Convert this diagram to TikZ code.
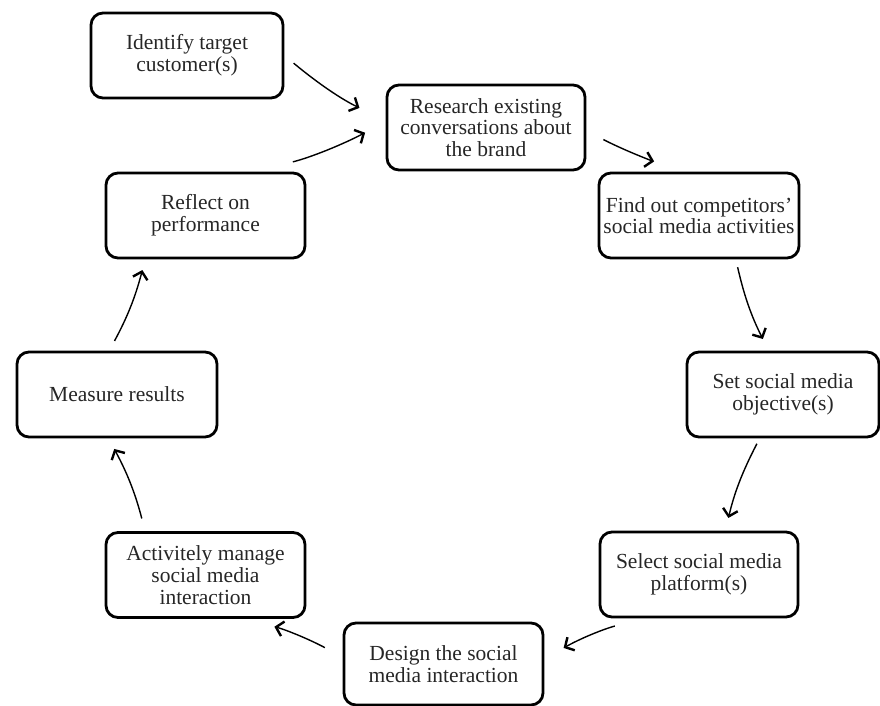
\documentclass[tikz,border=0pt]{standalone}
\usepackage{fontspec}
\setmainfont{Liberation Serif}
\usetikzlibrary{arrows.meta}

\begin{document}
\begin{tikzpicture}[x=1pt, y=-1pt,
    stage/.style={draw, line width=2.8pt, rounded corners=12pt, minimum height=85pt, inner sep=0pt, align=center, text=black!85, font=\fontsize{21.5}{21.7}\selectfont},
    flow/.style={line width=1.4pt, -{Straight Barb[length=7pt,width=15pt,line width=2.4pt]}, bend right=7}]
    \useasboundingbox (0,0) rectangle (880,706);
    \node[stage, minimum width=192pt] (ident) at (187,55.5) {Identify target\\customer(s)};
    \node[stage, minimum width=198pt] (research) at (486,127.5) {Research existing\\conversations about\\the brand};
    \node[stage, minimum width=200pt] (compet) at (699,215.5) {Find out competitors'\\social media activities};
    \node[stage, minimum width=192pt] (objective) at (783,394.5) {Set social media\\objective(s)};
    \node[stage, minimum width=198pt] (platform) at (699,574.5) {Select social media\\platform(s)};
    \node[stage, minimum width=199pt, minimum height=82pt] (design) at (443.5,664) {Design the social\\media interaction};
    \node[stage, minimum width=199pt] (manage) at (205.5,575) {Activitely manage\\social media\\interaction};
    \node[stage, minimum width=200pt] (measure) at (117,394.5) {Measure results};
    \node[stage, minimum width=199pt] (reflect) at (205.5,215.5) {Reflect on\\performance};
    \draw[flow, shorten <=12pt, shorten >=29pt] (ident.east) to (research.176);
    \draw[flow, shorten <=43pt, shorten >=23pt] (reflect.44) to (research.177);
    \draw[flow, shorten <=19pt, shorten >=46pt] (research.-2) to (compet.north);
    \draw[flow, shorten <=8pt, shorten >=13pt] (compet.-50) to (objective.108);
    \draw[flow, shorten <=6pt, shorten >=13pt] (objective.-118) to (platform.59);
    \draw[flow, shorten <=29pt, shorten >=22pt] (platform.-142) to (design.3);
    \draw[flow, shorten <=20pt, shorten >=33pt] (design.176) to (manage.-50);
    \draw[flow, shorten <=13pt, shorten >=12pt] (manage.144) to (measure.-101);
    \draw[flow, shorten <=11pt, shorten >=11pt] (measure.100) to (reflect.-144);
\end{tikzpicture}
\end{document}
